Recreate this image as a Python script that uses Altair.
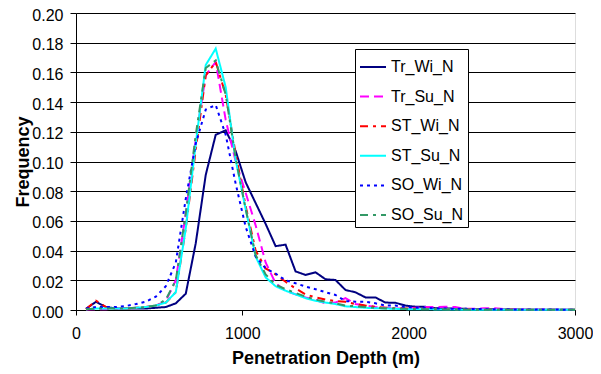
import altair as alt
import pandas as pd

depth = [60, 120, 180, 240, 300, 360, 420, 480, 540, 600,
         660, 720, 780, 840, 900, 960, 1020, 1080, 1140, 1200,
         1260, 1320, 1380, 1440, 1500, 1560, 1620, 1680, 1740, 1800,
         1860, 1920, 1980, 2040, 2100, 2160, 2220, 2280, 2340, 2400,
         2460, 2520, 2580, 2640, 2700, 2760, 2820, 2880, 2940, 3000]

tr_wi = [0.0008, 0.0055, 0.002, 0.001, 0.001, 0.001, 0.001, 0.0015, 0.002, 0.0045,
         0.011, 0.045, 0.091, 0.118, 0.121, 0.107, 0.086, 0.072, 0.058, 0.043,
         0.044, 0.026, 0.0236, 0.0254, 0.0207, 0.0202, 0.0135, 0.0119, 0.0085, 0.0085,
         0.005, 0.0049, 0.003, 0.0022, 0.0022, 0.0012, 0.0012, 0.0008, 0.0008, 0.0005,
         0.0005, 0.0004, 0.0003, 0.0003, 0.0002, 0.0002, 0.0002, 0.0001, 0.0001, 0.0001]

tr_su = [0.0003, 0.0005, 0.0005, 0.001, 0.001, 0.0015, 0.002, 0.003, 0.006, 0.02,
         0.065, 0.115, 0.158, 0.167, 0.128, 0.1, 0.079, 0.057, 0.032, 0.018,
         0.013, 0.0105, 0.0085, 0.0068, 0.0045, 0.005, 0.008, 0.004, 0.003, 0.002,
         0.0015, 0.001, 0.001, 0.0015, 0.002, 0.002, 0.0022, 0.002, 0.0008, 0.0008,
         0.0012, 0.0012, 0.0005, 0.0005, 0.0004, 0.0003, 0.0003, 0.0002, 0.0002, 0.0001]

st_wi = [0.0005, 0.0063, 0.002, 0.001, 0.001, 0.0015, 0.002, 0.003, 0.005, 0.012,
         0.055, 0.108, 0.158, 0.167, 0.145, 0.105, 0.07, 0.04, 0.028, 0.024,
         0.019, 0.0145, 0.0105, 0.0085, 0.007, 0.006, 0.0055, 0.004, 0.003, 0.0022,
         0.0015, 0.0012, 0.001, 0.001, 0.0008, 0.0008, 0.0006, 0.0005, 0.0005, 0.0004,
         0.0004, 0.0003, 0.0003, 0.0003, 0.0002, 0.0002, 0.0002, 0.0001, 0.0001, 0.0001]

st_su = [0.0005, 0.001, 0.001, 0.001, 0.001, 0.0015, 0.002, 0.003, 0.005, 0.012,
         0.055, 0.112, 0.165, 0.176, 0.15, 0.101, 0.068, 0.036, 0.022, 0.016,
         0.013, 0.0105, 0.008, 0.0062, 0.005, 0.004, 0.0025, 0.002, 0.0015, 0.0012,
         0.001, 0.0008, 0.0006, 0.0005, 0.0005, 0.0004, 0.0003, 0.0003, 0.0002, 0.0002,
         0.0002, 0.0001, 0.0001, 0.0001, 0.0001, 0.0001, 0.0001, 0.0001, 0.0001, 0.0001]

so_wi = [0.001, 0.002, 0.002, 0.002, 0.0027, 0.004, 0.0056, 0.009, 0.016, 0.032,
         0.075, 0.112, 0.135, 0.138, 0.118, 0.085, 0.056, 0.036, 0.028, 0.0245,
         0.02, 0.018, 0.0158, 0.014, 0.012, 0.0101, 0.006, 0.0056, 0.0056, 0.0045,
         0.003, 0.003, 0.002, 0.0015, 0.0015, 0.001, 0.001, 0.0008, 0.0008, 0.0006,
         0.0006, 0.0005, 0.0005, 0.0004, 0.0004, 0.0003, 0.0003, 0.0003, 0.0002, 0.0002]

so_su = [0.0005, 0.001, 0.001, 0.001, 0.001, 0.0015, 0.002, 0.003, 0.007, 0.02,
         0.065, 0.118, 0.163, 0.168, 0.145, 0.102, 0.068, 0.037, 0.024, 0.017,
         0.014, 0.0115, 0.009, 0.007, 0.0055, 0.0045, 0.003, 0.0025, 0.002, 0.0015,
         0.001, 0.001, 0.0008, 0.0006, 0.0005, 0.0005, 0.0004, 0.0003, 0.0003, 0.0002,
         0.0002, 0.0002, 0.0001, 0.0001, 0.0001, 0.0001, 0.0001, 0.0001, 0.0001, 0.0001]

names = ["Tr_Wi_N", "Tr_Su_N", "ST_Wi_N", "ST_Su_N", "SO_Wi_N", "SO_Su_N"]
series = [tr_wi, tr_su, st_wi, st_su, so_wi, so_su]
colors = ["#000080", "#FF00FF", "#FF0000", "#00FFFF", "#0000FF", "#339966"]
dashes = [[1, 0], [9, 5], [8, 5, 3, 5], [1, 0], [3, 4], [8, 5, 3, 5]]

y_ticks = [0.0, 0.02, 0.04, 0.06, 0.08, 0.10, 0.12, 0.14, 0.16, 0.18, 0.20]
x_ticks = [0, 1000, 2000, 3000]

rows = []
for name, vals in zip(names, series):
    for d, v in zip(depth, vals):
        rows.append({"series": name, "depth": d, "freq": v})
df = pd.DataFrame(rows)

FONT = "Liberation Sans"

legend = alt.Legend(
    orient="none", legendX=279, legendY=36,
    strokeColor="black", fillColor="white", padding=4,
    rowPadding=7.6, symbolType="stroke", symbolSize=676,
    symbolStrokeWidth=2, labelFont=FONT, labelFontSize=16,
    labelColor="black", labelOffset=4, labelLimit=200,
)

chart = alt.Chart(df).mark_line(strokeWidth=2).encode(
    x=alt.X("depth:Q",
            scale=alt.Scale(domain=[0, 3000], nice=False, zero=True),
            axis=alt.Axis(values=x_ticks, format="d", title="Penetration Depth (m)", grid=False,
                          labelFont=FONT, labelFontSize=16, labelColor="black",
                          labelPadding=10, tickSize=5, tickColor="black",
                          domainColor="black", titleFont=FONT, titleFontSize=18,
                          titleFontWeight="bold", titleColor="black",
                          titleX=249.5, titleY=53, titleBaseline="alphabetic",
                          titleAlign="center", labelFlush=False)),
    y=alt.Y("freq:Q",
            scale=alt.Scale(domain=[0, 0.2], nice=False),
            axis=alt.Axis(values=y_ticks, format=".2f", title="Frequency", grid=True,
                          gridColor="black", gridWidth=1,
                          labelFont=FONT, labelFontSize=16, labelColor="black",
                          labelPadding=7, labelOffset=2, tickSize=6, tickColor="black",
                          domainColor="black", titleFont=FONT, titleFontSize=18,
                          titleFontWeight="bold", titleColor="black",
                          titleX=-48, titleY=148.5, titleAngle=270,
                          titleBaseline="alphabetic", titleAlign="center")),
    color=alt.Color("series:N", scale=alt.Scale(domain=names, range=colors),
                    legend=legend, title=None),
    strokeDash=alt.StrokeDash("series:N", scale=alt.Scale(domain=names, range=dashes),
                              legend=legend, title=None),
).properties(
    width=499, height=297,
    autosize=alt.AutoSizeParams(type="none"),
    padding={"left": 68, "top": 5, "right": 18, "bottom": 58},
).configure_view(
    stroke="#808080", strokeWidth=1
).configure(background="white")

chart.save("out.html", embed_options={"renderer": "svg", "actions": False})
